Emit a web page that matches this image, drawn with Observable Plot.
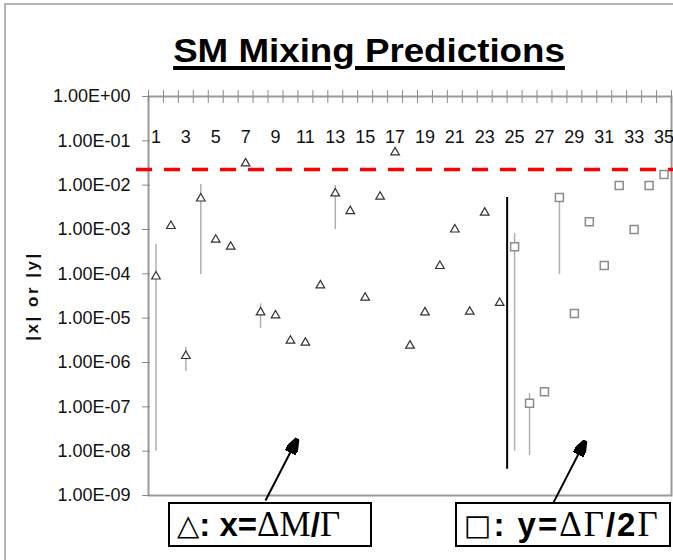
<!DOCTYPE html>
<html>
<head>
<meta charset="utf-8">
<script src="https://cdn.jsdelivr.net/npm/d3@7"></script>
<script src="https://cdn.jsdelivr.net/npm/@observablehq/plot@0.6"></script>
<style>
  html, body { margin: 0; padding: 0; background: #fff; }
  #page { position: relative; width: 673px; height: 560px; overflow: hidden; font-family: "Liberation Sans", Arial, sans-serif; }
  #outer { position: absolute; left: 4px; top: 3px; width: 680px; height: 600px; border-left: 2px solid #b4b4b4; border-top: 2px solid #b4b4b4; }
  #title { position: absolute; left: 368.5px; top: 33px; font-size: 34px; line-height: 34px; font-weight: bold; white-space: nowrap;
           text-decoration: underline; text-decoration-thickness: 3.5px; text-underline-offset: 4px;
           transform: translateX(-50%) scaleX(1.08); transform-origin: center; color: #000; }
  #ylabel { position: absolute; left: 33px; top: 296px; font-size: 17px; font-weight: bold; white-space: nowrap; letter-spacing: 2.5px;
            transform: translate(-50%, -50%) rotate(-90deg); color: #111; }
  #chart { position: absolute; left: 0; top: 80px; }
  .box { position: absolute; top: 502px; height: 45px; box-sizing: border-box; border: 2px solid #000; background: #fff;
         display: flex; align-items: center; font-size: 33px; white-space: nowrap; padding-left: 7px; z-index: 2; }
  .box b { font-family: "Liberation Sans", Arial, sans-serif; font-weight: bold; }
  .serif { font-family: "Liberation Serif", "Times New Roman", serif; font-size: 35px; }
  .sym { font-family: "DejaVu Sans", sans-serif; font-size: 29px; }
  #box2 { letter-spacing: 2px; }
</style>
</head>
<body>
<div id="page">
  <div id="outer"></div>
  <div id="title">SM Mixing Predictions</div>
  <div id="ylabel">|x| or |y|</div>
  <div id="chart"></div>
  <div class="box" style="left:168px; width:204px;"><span class="sym">△</span><b>: x=</b><span class="serif">ΔM</span><b>/</b><span class="serif">Γ</span></div>
  <div class="box" id="box2" style="left:455px; width:216px;"><span class="sym">□</span><b>: y=</b><span class="serif">ΔΓ</span><b>/2</b><span class="serif">Γ</span></div>
</div>
<script>
// ---------- data ----------
const categories = [1,2,3,4,5,6,7,8,9,10,11,12,13,14,15,16,17,18,19,20,21,22,23,24,25,26,27,28,29,30,31,32,33,34,35];
const xLabelCats = [1,3,5,7,9,11,13,15,17,19,21,23,25,27,29,31,33,35];

// triangles: x = dM/Gamma, categories 1-24
const xCats = [1,2,3,4,5,6,7,8,9,10,11,12,13,14,15,16,17,18,19,20,21,22,23,24];
const xValues = [8.7e-5, 1.2e-3, 1.4e-6, 5.0e-3, 5.9e-4, 4.1e-4, 3.1e-2, 1.35e-5, 1.15e-5, 3.1e-6, 2.8e-6, 5.5e-5,
                 6.5e-3, 2.6e-3, 2.9e-5, 5.5e-3, 5.5e-2, 2.4e-6, 1.35e-5, 1.5e-4, 1.0e-3, 1.4e-5, 2.4e-3, 2.2e-5];

// squares: y = dGamma/2Gamma, categories 25-35
const yCats = [25,26,27,28,29,30,31,32,33,34,35];
const yValues = [4.1e-4, 1.2e-7, 2.2e-7, 5.3e-3, 1.27e-5, 1.5e-3, 1.55e-4, 9.8e-3, 1.0e-3, 9.8e-3, 1.74e-2];

// error ranges
const errCats = [1, 3, 4, 8, 13, 25, 26, 28];
const errLow  = [1e-8, 6.3e-7, 9.6e-5, 5.9e-6, 1.0e-3, 1e-8, 8e-9, 9.6e-5];
const errHigh = [4.6e-4, 2.2e-6, 1.03e-2, 2.1e-5, 9.8e-3, 8.1e-4, 2.0e-7, 5.3e-3];

// reference lines
const thresholdValue = [2.25e-2];
const dividerCat = [24.5];
const dividerTop = [5.3e-3];
const dividerBottom = [3.9e-9];

// y axis ticks
const yTicks = [1, 1e-1, 1e-2, 1e-3, 1e-4, 1e-5, 1e-6, 1e-7, 1e-8, 1e-9];
const yTickLabels = ["1.00E+00","1.00E-01","1.00E-02","1.00E-03","1.00E-04","1.00E-05","1.00E-06","1.00E-07","1.00E-08","1.00E-09"];

// category boundaries (tick marks on top axis)
const boundaries = [0.5,1.5,2.5,3.5,4.5,5.5,6.5,7.5,8.5,9.5,10.5,11.5,12.5,13.5,14.5,15.5,16.5,17.5,18.5,19.5,20.5,21.5,22.5,23.5,24.5,25.5,26.5,27.5,28.5,29.5,30.5,31.5,32.5,33.5,34.5,35.5];

// annotation arrows (tail below the axis -> tip in the plot)
const arrowTailX = [8.33, 27.6];
const arrowTailY = [7.7e-10, 6.9e-10];
const arrowTipX = [10.47, 29.74];
const arrowTipY = [1.93e-8, 1.74e-8];

// ---------- tables ----------
const triTable = xCats.map((c, i) => ({cat: c, v: xValues[i]}));
const sqTable = yCats.map((c, i) => ({cat: c, v: yValues[i]}));
const errTable = errCats.map((c, i) => ({cat: c, lo: errLow[i], hi: errHigh[i]}));
const divTable = dividerCat.map((c, i) => ({cat: c, lo: dividerBottom[i], hi: dividerTop[i]}));
const arrowTable = arrowTailX.map((x, i) => ({x1: x, y1: arrowTailY[i], x2: arrowTipX[i], y2: arrowTipY[i]}));
const labelOf = new Map(yTicks.map((t, i) => [t, yTickLabels[i]]));

function filledArrow(color, context) {
  const ns = "http://www.w3.org/2000/svg";
  const doc = (context && context.document) || document;
  const m = doc.createElementNS(ns, "marker");
  m.setAttribute("viewBox", "-8 -3 8 6");
  m.setAttribute("markerWidth", 8);
  m.setAttribute("markerHeight", 6);
  m.setAttribute("refX", 0);
  m.setAttribute("refY", 0);
  m.setAttribute("orient", "auto");
  const p = doc.createElementNS(ns, "path");
  p.setAttribute("d", "M-8,-3L0,0L-8,3Z");
  p.setAttribute("fill", color);
  m.appendChild(p);
  return m;
}

const frameW = 673 - 148 - 2;
const frameH = 440 - 16 - 25;

const chart = Plot.plot({
  width: 673,
  height: 440,
  marginTop: 16,
  marginBottom: 25,
  marginLeft: 148,
  marginRight: 2,
  x: {type: "linear", domain: [0.5, 35.5], axis: null},
  y: {type: "log", domain: [1e-9, 1], axis: null},
  style: {fontFamily: "'Liberation Sans', Arial, sans-serif", background: "transparent", overflow: "visible"},
  marks: [
    Plot.frame({stroke: "#9a9a9a", strokeWidth: 2}),
    Plot.tickX(boundaries, {x: d => d, insetTop: -6, insetBottom: frameH - 7, stroke: "#8a8a8a", strokeWidth: 1}),
    Plot.tickY(yTicks, {y: d => d, insetLeft: -6, insetRight: frameW - 2, stroke: "#8a8a8a", strokeWidth: 1}),
    Plot.axisY({ticks: yTicks, tickSize: 0, tickPadding: 18, tickFormat: d => labelOf.get(d), fontSize: 18, color: "#111", label: null}),
    Plot.text(xLabelCats, {x: d => d, frameAnchor: "top", dy: 34, fontSize: 18, fill: "#111"}),
    Plot.ruleY(thresholdValue, {y: d => d, stroke: "#ff0000", strokeWidth: 3.5, strokeDasharray: "16,12", insetLeft: -12, insetRight: -2}),
    Plot.ruleX(errTable, {x: "cat", y1: "lo", y2: "hi", stroke: "#b0b0b0", strokeWidth: 1.5}),
    Plot.ruleX(divTable, {x: "cat", y1: "lo", y2: "hi", stroke: "#000", strokeWidth: 2}),
    Plot.dot(triTable, {x: "cat", y: "v", symbol: "triangle", r: 3.2, stroke: "#333", strokeWidth: 1.2, fill: "#fff"}),
    Plot.dot(sqTable, {x: "cat", y: "v", symbol: "square", r: 4.5, stroke: "#8c8c8c", strokeWidth: 1.5, fill: "#fff"}),
    Plot.link(arrowTable, {x1: "x1", y1: "y1", x2: "x2", y2: "y2", stroke: "#000", strokeWidth: 2, markerEnd: filledArrow})
  ]
});
document.getElementById("chart").appendChild(chart);
</script>
</body>
</html>
